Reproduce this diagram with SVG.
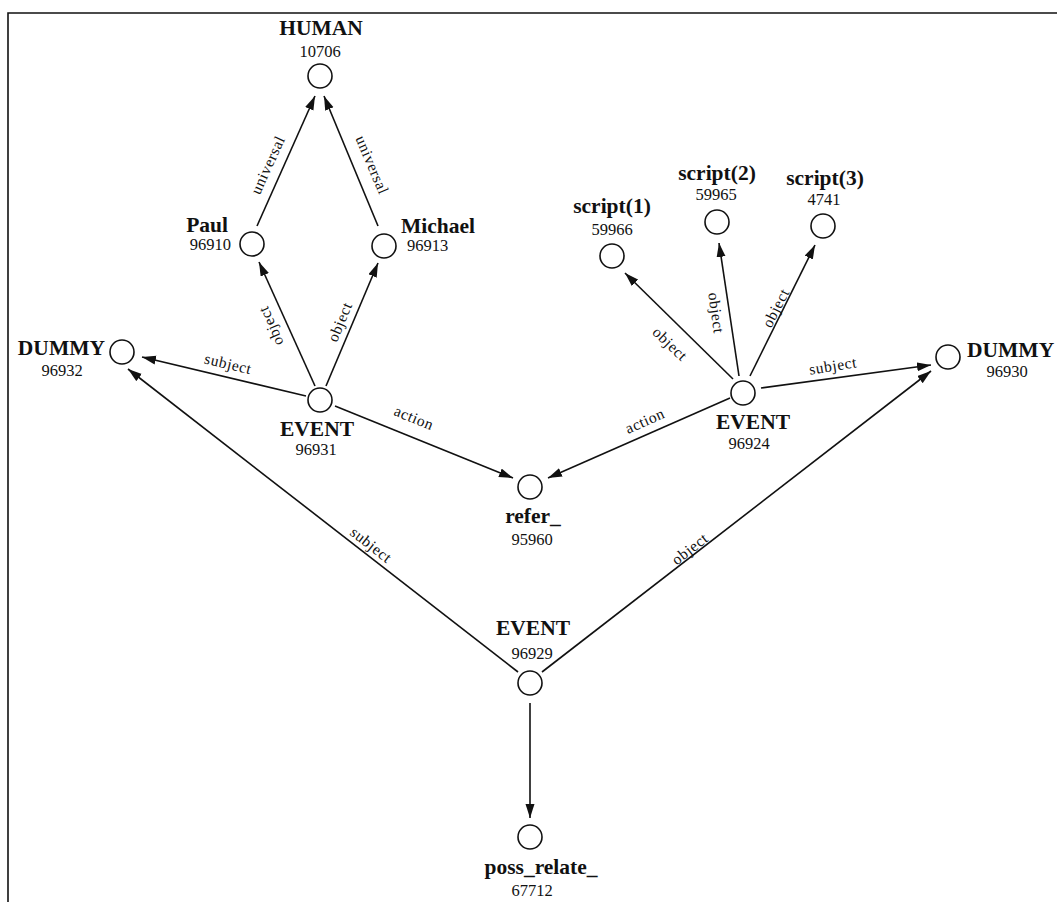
<svg xmlns="http://www.w3.org/2000/svg" width="1057" height="902" viewBox="0 0 1057 902">
<style>
.nd{fill:#fff;stroke:#111;stroke-width:1.6}
.nm{font-family:"Liberation Serif","Times New Roman",serif;font-weight:bold;font-size:21.5px;fill:#111}
.id{font-family:"Liberation Serif","Times New Roman",serif;font-size:16.5px;fill:#111}
.el{font-family:"Liberation Serif","Times New Roman",serif;font-size:15.5px;letter-spacing:0.6px;fill:#111;text-anchor:middle}
.ed{stroke:#111;stroke-width:1.6;fill:none;marker-end:url(#ah)}
.fr{stroke:#111;stroke-width:1.6;fill:none}
</style>
<defs>
<marker id="ah" markerUnits="userSpaceOnUse" markerWidth="15" markerHeight="10" refX="14" refY="4.5" orient="auto">
<path d="M0,0 L14,4.5 L0,9 z" fill="#111"/>
</marker>
</defs>
<rect width="1057" height="902" fill="#fff"/>
<path class="fr" d="M8,902 L8,13 L1057,13"/>
<g id="connectors">
<line class="ed" x1="257" y1="226" x2="315" y2="96"/>
<line class="ed" x1="378" y1="226" x2="324" y2="96"/>
<line class="ed" x1="315" y1="386" x2="259" y2="262"/>
<line class="ed" x1="326" y1="386" x2="378" y2="263"/>
<line class="ed" x1="306" y1="396" x2="142" y2="357"/>
<line class="ed" x1="335" y1="406" x2="513" y2="478"/>
<line class="ed" x1="730" y1="398" x2="548" y2="478"/>
<line class="ed" x1="733" y1="379" x2="625" y2="273"/>
<line class="ed" x1="739" y1="376" x2="719" y2="243"/>
<line class="ed" x1="750" y1="376" x2="815" y2="245"/>
<line class="ed" x1="761" y1="388" x2="931" y2="365"/>
<line class="ed" x1="518" y1="672" x2="128" y2="369"/>
<line class="ed" x1="542" y1="672" x2="931" y2="371"/>
<line class="ed" x1="530" y1="703" x2="530" y2="818"/>
<text class="el" transform="translate(268,165) rotate(-65.5)" y="5">universal</text>
<text class="el" transform="translate(372,165) rotate(67)" y="5">universal</text>
<text class="el" transform="translate(271,326) rotate(-113.5)" y="5">object</text>
<text class="el" transform="translate(340,322) rotate(-67.7)" y="5">object</text>
<text class="el" transform="translate(228,364) rotate(13.5)" y="5">subject</text>
<text class="el" transform="translate(414,418) rotate(22)" y="5">action</text>
<text class="el" transform="translate(645,421) rotate(-24)" y="5">action</text>
<text class="el" transform="translate(670,344) rotate(44)" y="5">object</text>
<text class="el" transform="translate(716,313) rotate(82)" y="5">object</text>
<text class="el" transform="translate(776,308) rotate(-63)" y="5">object</text>
<text class="el" transform="translate(833,366) rotate(-9)" y="5">subject</text>
<text class="el" transform="translate(371,545) rotate(38)" y="5">subject</text>
<text class="el" transform="translate(690,549) rotate(-38)" y="5">object</text>
</g>
<g id="n-human">
<circle class="nd" cx="320" cy="76" r="12"/>
<text class="nm" x="321" y="35" text-anchor="middle">HUMAN</text>
<text class="id" x="320" y="57" text-anchor="middle">10706</text>
</g>
<g id="n-paul">
<circle class="nd" cx="252" cy="244" r="12"/>
<text class="nm" x="228" y="232" text-anchor="end">Paul</text>
<text class="id" x="231" y="250" text-anchor="end">96910</text>
</g>
<g id="n-michael">
<circle class="nd" cx="384" cy="246" r="12"/>
<text class="nm" x="401" y="233">Michael</text>
<text class="id" x="407" y="251">96913</text>
</g>
<g id="n-dummy-96932">
<circle class="nd" cx="122" cy="352" r="12"/>
<text class="nm" x="105" y="355" text-anchor="end">DUMMY</text>
<text class="id" x="62" y="376" text-anchor="middle">96932</text>
</g>
<g id="n-event-96931">
<circle class="nd" cx="320" cy="400" r="12"/>
<text class="nm" x="317" y="436" text-anchor="middle">EVENT</text>
<text class="id" x="316" y="455" text-anchor="middle">96931</text>
</g>
<g id="n-refer">
<circle class="nd" cx="530" cy="487" r="12"/>
<text class="nm" x="533" y="523" text-anchor="middle">refer_</text>
<text class="id" x="532" y="545" text-anchor="middle">95960</text>
</g>
<g id="n-event-96924">
<circle class="nd" cx="743" cy="393" r="12"/>
<text class="nm" x="753" y="429" text-anchor="middle">EVENT</text>
<text class="id" x="749" y="449" text-anchor="middle">96924</text>
</g>
<g id="n-dummy-96930">
<circle class="nd" cx="948" cy="357" r="12"/>
<text class="nm" x="967" y="357">DUMMY</text>
<text class="id" x="1007" y="377" text-anchor="middle">96930</text>
</g>
<g id="n-script1">
<circle class="nd" cx="612" cy="256" r="12"/>
<text class="nm" x="612" y="213" text-anchor="middle">script(1)</text>
<text class="id" x="612" y="235" text-anchor="middle">59966</text>
</g>
<g id="n-script2">
<circle class="nd" cx="717" cy="222" r="12"/>
<text class="nm" x="717" y="180" text-anchor="middle">script(2)</text>
<text class="id" x="716" y="200" text-anchor="middle">59965</text>
</g>
<g id="n-script3">
<circle class="nd" cx="823" cy="226" r="12"/>
<text class="nm" x="825" y="185" text-anchor="middle">script(3)</text>
<text class="id" x="824" y="205" text-anchor="middle">4741</text>
</g>
<g id="n-event-96929">
<circle class="nd" cx="530" cy="683" r="12"/>
<text class="nm" x="533" y="635" text-anchor="middle">EVENT</text>
<text class="id" x="532" y="659" text-anchor="middle">96929</text>
</g>
<g id="n-poss-relate">
<circle class="nd" cx="530" cy="837" r="12"/>
<text class="nm" x="541" y="874" text-anchor="middle">poss_relate_</text>
<text class="id" x="532" y="896" text-anchor="middle">67712</text>
</g>
</svg>
